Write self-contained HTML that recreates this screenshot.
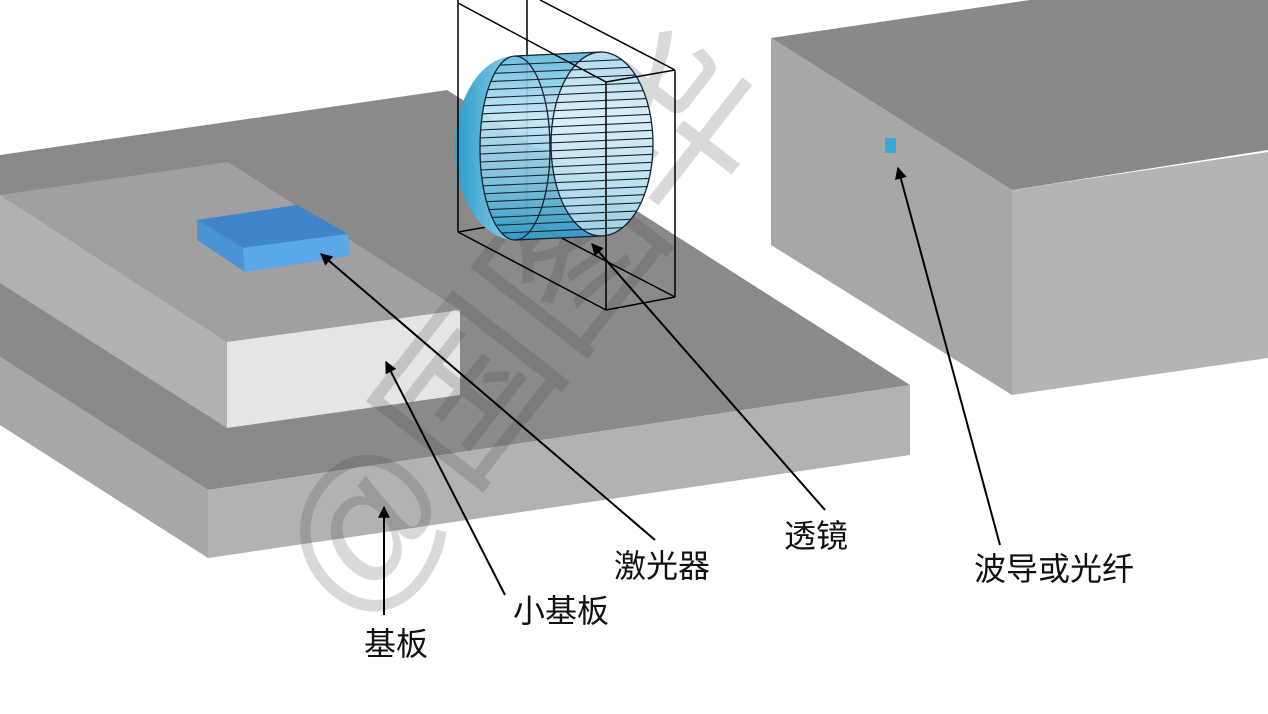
<!DOCTYPE html>
<html><head><meta charset="utf-8"><style>
html,body{margin:0;padding:0;background:#fff;}
svg{display:block}
text.lbl{font-family:"Liberation Sans","Noto Sans CJK SC",sans-serif;font-size:32px;fill:#111;}
</style></head><body>
<svg width="1268" height="714" viewBox="0 0 1268 714" xmlns="http://www.w3.org/2000/svg">
<defs>
<marker id="ah" viewBox="0 0 10 10" refX="9" refY="5" markerWidth="15" markerHeight="12" orient="auto-start-reverse" markerUnits="userSpaceOnUse">
<path d="M0,0 L10,5 L0,10 z" fill="#000"/>
</marker>
<linearGradient id="cyl" x1="0" y1="0" x2="0" y2="1">
<stop offset="0" stop-color="#5ab6da"/><stop offset="0.35" stop-color="#c6e6f2"/><stop offset="0.7" stop-color="#7cc4e0"/><stop offset="1" stop-color="#2f9cc8"/>
</linearGradient>
<linearGradient id="dome" x1="0" y1="0" x2="1" y2="0">
<stop offset="0" stop-color="#2c9ccb"/><stop offset="1" stop-color="#8fd0e8"/>
</linearGradient>
<clipPath id="bandclip"><path d="M515,56 L601,52 A52,92 0 0 1 601,236 L515,240 A35,92 0 0 1 515,56 Z"/></clipPath>
</defs>

<!-- base -->
<polygon points="0,155 447,90 910,385 208,490 0,357" fill="#8c8989"/>
<polygon points="0,357 208,490 208,558 0,425" fill="#a9a6a6"/>
<polygon points="208,490 910,385 910,455 208,558" fill="#b4b1b1"/>

<!-- small substrate -->
<polygon points="0,195 228,162 460,310 227,342" fill="#a2a09f"/>
<polygon points="0,195 227,342 227,428 0,283" fill="#b2b0b0"/>
<polygon points="227,342 460,310 460,395 227,428" fill="#e6e5e4"/>

<!-- laser chip -->
<polygon points="197,220 297,205 348,234 243,248" fill="#3f86c8"/>
<polygon points="197,220 243,248 245,272 197,240" fill="#4a94d4"/>
<polygon points="243,248 348,234 350,256 245,272" fill="#5aa8e8"/>

<!-- right box -->
<polygon points="771,38 1030,0 1268,0 1268,150 1012,190" fill="#8b8888"/>
<polygon points="771,38 1012,190 1012,395 771,245" fill="#a9a6a6"/>
<polygon points="1012,190 1268,152 1268,358 1012,395" fill="#b6b3b3"/>
<rect x="885" y="138" width="11" height="15" fill="#3aa6dc"/>

<!-- watermark -->
<g transform="translate(470,390) rotate(-52)" opacity="0.2">
<text x="-260" y="60" font-family="Liberation Sans,Noto Sans CJK SC,sans-serif" font-size="170" fill="#444">@国图华</text>
</g>

<!-- lens box back edges -->
<g stroke="#000" stroke-width="1.5" fill="none">
<line x1="527" y1="-10" x2="527" y2="220"/>
<line x1="527" y1="220" x2="675" y2="297"/>
<line x1="458" y1="232" x2="527" y2="220"/>
</g>

<!-- lens cylinder -->
<path d="M515,56 L601,52 A52,92 0 0 1 601,236 L515,240 A35,92 0 0 1 515,56 Z" fill="url(#cyl)" opacity="0.92"/>
<path d="M601,52 A52,92 0 0 1 601,236 A50,92 0 0 1 601,52 Z" fill="#e4f2f6" opacity="0.6"/>
<path d="M515,56 A60,92 0 0 0 515,240 A35,92 0 0 1 515,56 Z" fill="url(#dome)"/>
<g clip-path="url(#bandclip)" stroke="#123" stroke-width="1.1">
<line x1="480" y1="66" x2="660" y2="58"/><line x1="480" y1="74" x2="660" y2="66"/><line x1="480" y1="82" x2="660" y2="74"/>
<line x1="480" y1="90" x2="660" y2="82"/><line x1="480" y1="98" x2="660" y2="90"/><line x1="480" y1="106" x2="660" y2="98"/>
<line x1="480" y1="114" x2="660" y2="106"/><line x1="480" y1="122" x2="660" y2="114"/><line x1="480" y1="130" x2="660" y2="122"/>
<line x1="480" y1="138" x2="660" y2="130"/><line x1="480" y1="146" x2="660" y2="138"/><line x1="480" y1="154" x2="660" y2="146"/>
<line x1="480" y1="162" x2="660" y2="154"/><line x1="480" y1="170" x2="660" y2="162"/><line x1="480" y1="178" x2="660" y2="170"/>
<line x1="480" y1="186" x2="660" y2="178"/><line x1="480" y1="194" x2="660" y2="186"/><line x1="480" y1="202" x2="660" y2="194"/>
<line x1="480" y1="210" x2="660" y2="202"/><line x1="480" y1="218" x2="660" y2="210"/><line x1="480" y1="226" x2="660" y2="218"/>
<line x1="480" y1="234" x2="660" y2="226"/><line x1="480" y1="242" x2="660" y2="234"/>
</g>
<ellipse cx="515" cy="148" rx="35" ry="92" fill="none" stroke="#123" stroke-width="1.3"/>
<path d="M601,52 A52,92 0 0 1 601,236 A50,92 0 0 1 601,52" fill="none" stroke="#123" stroke-width="1.3"/>
<line x1="515" y1="56" x2="601" y2="52" stroke="#123" stroke-width="1.2"/>
<line x1="515" y1="240" x2="601" y2="236" stroke="#123" stroke-width="1.2"/>

<!-- lens box front edges -->
<g stroke="#000" stroke-width="1.5" fill="none">
<line x1="458" y1="0" x2="458" y2="232"/>
<line x1="458" y1="3" x2="606" y2="82"/>
<line x1="540" y1="0" x2="675" y2="70"/>
<line x1="606" y1="82" x2="675" y2="70"/>
<line x1="606" y1="82" x2="606" y2="310"/>
<line x1="675" y1="70" x2="675" y2="297"/>
<line x1="458" y1="232" x2="606" y2="310"/>
<line x1="606" y1="310" x2="675" y2="297"/>
</g>

<!-- arrows -->
<g stroke="#000" stroke-width="2" marker-end="url(#ah)">
<line x1="384" y1="615" x2="384" y2="507"/>
<line x1="505" y1="595" x2="386" y2="362"/>
<line x1="655" y1="540" x2="321" y2="254"/>
<line x1="825" y1="510" x2="592" y2="244"/>
<line x1="1000" y1="545" x2="898" y2="168"/>
</g>

<!-- labels -->
<text class="lbl" x="364" y="655">基板</text>
<text class="lbl" x="513" y="622">小基板</text>
<text class="lbl" x="614" y="577">激光器</text>
<text class="lbl" x="784" y="547">透镜</text>
<text class="lbl" x="974" y="580">波导或光纤</text>
</svg>
</body></html>
